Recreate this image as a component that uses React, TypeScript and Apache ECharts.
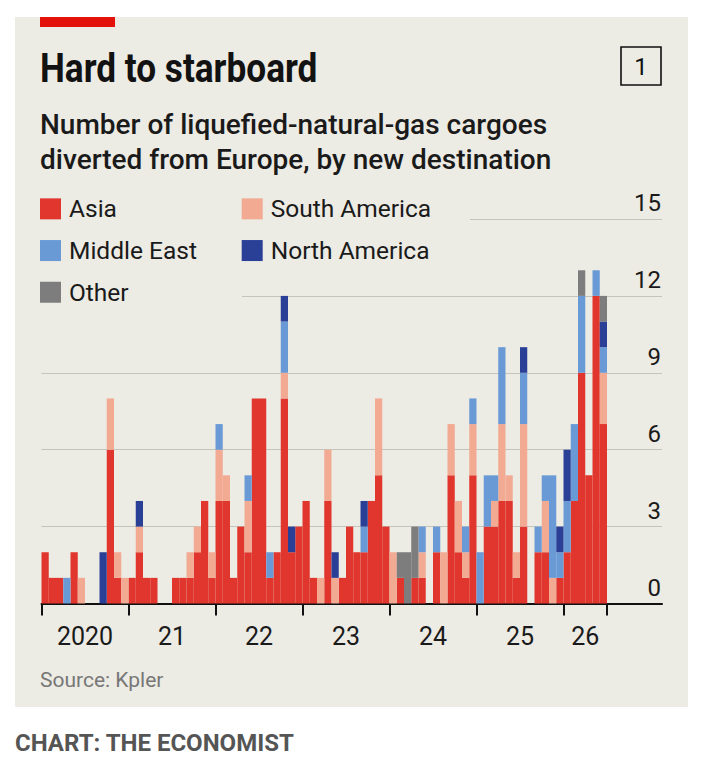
import React, { useEffect, useRef } from 'react';
import * as echarts from 'echarts';

// Year ticks sit on month boundaries (months since Jan 2020); labels sit mid-year
const years = [2020, 2021, 2022, 2023, 2024, 2025, 2026];
const yearLabels = ['2020', '21', '22', '23', '24', '25', '26'];
const yearTickPos = [0, 12, 24, 36, 48, 60, 72, 78];
const yearLabelPos = [6, 18, 30, 42, 54, 66, 75];

const seriesNames = ['Asia', 'South America', 'Middle East', 'North America', 'Other'];
const seriesColors = ['#E1362D', '#F2AA93', '#6A9AD6', '#2A3F96', '#7D7D7D'];

// Monthly cargoes, Jan 2020 - Jun 2026
const asia = [
  2, 1, 1, 0, 2, 0, 0, 0, 0, 6, 1, 0,
  1, 2, 1, 1, 0, 0, 1, 1, 1, 2, 4, 1,
  4, 4, 1, 3, 2, 8, 8, 1, 2, 8, 2, 3,
  4, 1, 0, 4, 0, 1, 3, 2, 2, 4, 5, 3,
  0, 1, 0, 1, 1, 0, 2, 0, 5, 2, 1, 5,
  0, 3, 3, 4, 4, 1, 3, 0, 2, 2, 0, 1,
  2, 4, 9, 5, 12, 7,
];
const southAmerica = [
  0, 0, 0, 0, 0, 1, 0, 0, 0, 2, 1, 1,
  0, 1, 0, 0, 0, 0, 0, 0, 1, 1, 0, 1,
  2, 1, 0, 0, 2, 0, 0, 0, 0, 1, 0, 0,
  0, 0, 1, 2, 1, 0, 0, 0, 0, 0, 3, 0,
  2, 0, 0, 0, 1, 0, 0, 2, 2, 2, 1, 2,
  0, 0, 1, 3, 1, 1, 4, 0, 0, 2, 1, 0,
  0, 0, 0, 0, 0, 2,
];
const middleEast = [
  0, 0, 0, 1, 0, 0, 0, 0, 0, 0, 0, 0,
  0, 0, 0, 0, 0, 0, 0, 0, 0, 0, 0, 0,
  1, 0, 0, 0, 1, 0, 0, 1, 0, 2, 0, 0,
  0, 0, 0, 0, 0, 0, 0, 0, 1, 0, 0, 0,
  0, 0, 0, 0, 1, 0, 1, 0, 0, 0, 1, 1,
  2, 2, 1, 3, 0, 0, 2, 0, 1, 1, 4, 1,
  2, 3, 3, 0, 1, 1,
];
const northAmerica = [
  0, 0, 0, 0, 0, 0, 0, 0, 2, 0, 0, 0,
  0, 1, 0, 0, 0, 0, 0, 0, 0, 0, 0, 0,
  0, 0, 0, 0, 0, 0, 0, 0, 0, 1, 1, 0,
  0, 0, 0, 0, 1, 0, 0, 0, 1, 0, 0, 0,
  0, 0, 0, 0, 0, 0, 0, 0, 0, 0, 0, 0,
  0, 0, 0, 0, 0, 0, 1, 0, 0, 0, 0, 1,
  2, 0, 0, 0, 0, 1,
];
const other = [
  0, 0, 0, 0, 0, 0, 0, 0, 0, 0, 0, 0,
  0, 0, 0, 0, 0, 0, 0, 0, 0, 0, 0, 0,
  0, 0, 0, 0, 0, 0, 0, 0, 0, 0, 0, 0,
  0, 0, 0, 0, 0, 0, 0, 0, 0, 0, 0, 0,
  0, 1, 2, 2, 0, 0, 0, 0, 0, 0, 0, 0,
  0, 0, 0, 0, 0, 0, 0, 0, 0, 0, 0, 0,
  0, 0, 1, 0, 0, 1,
];
const seriesValues = [asia, southAmerica, middleEast, northAmerica, other];

const monthNames = ['Jan', 'Feb', 'Mar', 'Apr', 'May', 'Jun', 'Jul', 'Aug', 'Sep', 'Oct', 'Nov', 'Dec'];
const months: string[] = [];
years.forEach((y) => monthNames.forEach((m) => months.push(`${m} ${y}`)));
const categories = months.slice(0, asia.length);

const BG = '#ECEBE4';
const FONT = 'Roboto, "Noto Sans", sans-serif';

export default function App() {
  const ref = useRef<HTMLDivElement>(null);

  useEffect(() => {
    document.body.style.margin = '0';
    if (!ref.current) return;
    const chart = echarts.init(ref.current, undefined, { renderer: 'svg' });

    const gridLeft = 41.5;
    const gridRight = 662;
    const monthPx = 7.25;
    const xMax = (gridRight - gridLeft) / monthPx;
    const barsRight = gridLeft + monthPx * categories.length;
    const top = 219;
    const bottom = 768 - 603.5;

    const option: any = {
      animation: false,
      backgroundColor: '#ffffff',
      grid: [
        { left: gridLeft, right: 704 - barsRight, top, bottom, containLabel: false },
        { left: gridLeft, right: 704 - gridRight, top, bottom, containLabel: false },
      ],
      legend: {
        data: seriesNames,
        left: 40,
        top: 193,
        width: 420,
        padding: 0,
        itemGap: 10,
        itemWidth: 21,
        itemHeight: 21,
        icon: 'rect',
        selectedMode: false,
        textStyle: {
          fontFamily: FONT,
          fontSize: 24.5,
          color: '#1a1a1a',
          width: 162.7,
          lineHeight: 31.7,
          padding: [0, 0, 0, 3],
        },
      },
      xAxis: [
        {
          type: 'category',
          gridIndex: 0,
          data: categories,
          boundaryGap: true,
          axisLine: { show: false },
          axisTick: { show: false },
          axisLabel: { show: false },
          splitLine: { show: false },
        },
        {
          type: 'value',
          gridIndex: 1,
          min: 0,
          max: xMax,
          axisLine: { show: true, lineStyle: { color: '#111', width: 2 } },
          axisTick: { show: true, customValues: yearTickPos, length: 12, lineStyle: { color: '#111', width: 2 } },
          axisLabel: {
            customValues: yearLabelPos,
            formatter: (v: number) => {
              const k = yearLabelPos.indexOf(v);
              return k >= 0 ? yearLabels[k] : '';
            },
            fontFamily: FONT,
            fontSize: 25,
            color: '#1a1a1a',
            margin: 20,
          },
          splitLine: { show: false },
        },
      ],
      yAxis: [
        {
          type: 'value',
          gridIndex: 0,
          min: 0,
          max: 15,
          interval: 3,
          show: false,
          splitLine: { show: false },
        },
        {
          type: 'value',
          gridIndex: 1,
          position: 'right',
          min: 0,
          max: 15,
          interval: 3,
          axisLine: { show: false },
          axisTick: { show: false },
          axisLabel: {
            inside: true,
            margin: 1,
            verticalAlign: 'bottom',
            padding: [0, 0, 4, 0],
            fontFamily: FONT,
            fontSize: 24,
            color: '#1a1a1a',
          },
          splitLine: { show: true, lineStyle: { color: '#C4C4BC', width: 1 } },
        },
      ],
      series: seriesNames.map((name, s) => ({
        name,
        type: 'bar',
        xAxisIndex: 0,
        yAxisIndex: 0,
        stack: 'total',
        barWidth: '100%',
        z: 3,
        itemStyle: { color: seriesColors[s] },
        emphasis: { disabled: true },
        data: seriesValues[s],
      })),
      graphic: [
        { type: 'rect', z: -10, shape: { x: 15, y: 17, width: 673, height: 690 }, style: { fill: BG } },
        { type: 'rect', z: 1, shape: { x: 38, y: 291, width: 204, height: 11 }, style: { fill: BG } },
        { type: 'rect', z: 1, shape: { x: 38, y: 213, width: 432, height: 11 }, style: { fill: BG } },
        { type: 'rect', z: 5, shape: { x: 40, y: 17, width: 75, height: 10 }, style: { fill: '#E3120B' } },
        {
          type: 'text', z: 10, x: 40, y: 68, scaleX: 0.88,
          style: { text: 'Hard to starboard', font: `bold 40px ${FONT}`, fill: '#121212', verticalAlign: 'middle' },
        },
        {
          type: 'text', z: 10, x: 40, y: 124,
          style: { text: 'Number of liquefied-natural-gas cargoes', font: `500 28px ${FONT}`, fill: '#1a1a1a', verticalAlign: 'middle' },
        },
        {
          type: 'text', z: 10, x: 40, y: 159,
          style: { text: 'diverted from Europe, by new destination', font: `500 28px ${FONT}`, fill: '#1a1a1a', verticalAlign: 'middle' },
        },
        { type: 'rect', z: 10, shape: { x: 621, y: 47, width: 40, height: 38 }, style: { fill: 'none', stroke: '#111', lineWidth: 1.6 } },
        {
          type: 'text', z: 10, x: 641, y: 66.5,
          style: { text: '1', font: `24px ${FONT}`, fill: '#111', align: 'center', verticalAlign: 'middle' },
        },
        {
          type: 'text', z: 10, x: 40, y: 680,
          style: { text: 'Source: Kpler', font: `21px ${FONT}`, fill: '#777777', verticalAlign: 'middle' },
        },
        {
          type: 'text', z: 10, x: 15, y: 743,
          style: { text: 'CHART: THE ECONOMIST', font: `bold 24px ${FONT}`, fill: '#555555', verticalAlign: 'middle' },
        },
      ],
    };

    chart.setOption(option);
    return () => chart.dispose();
  }, []);

  return <div ref={ref} style={{ width: 704, height: 768 }} />;
}
